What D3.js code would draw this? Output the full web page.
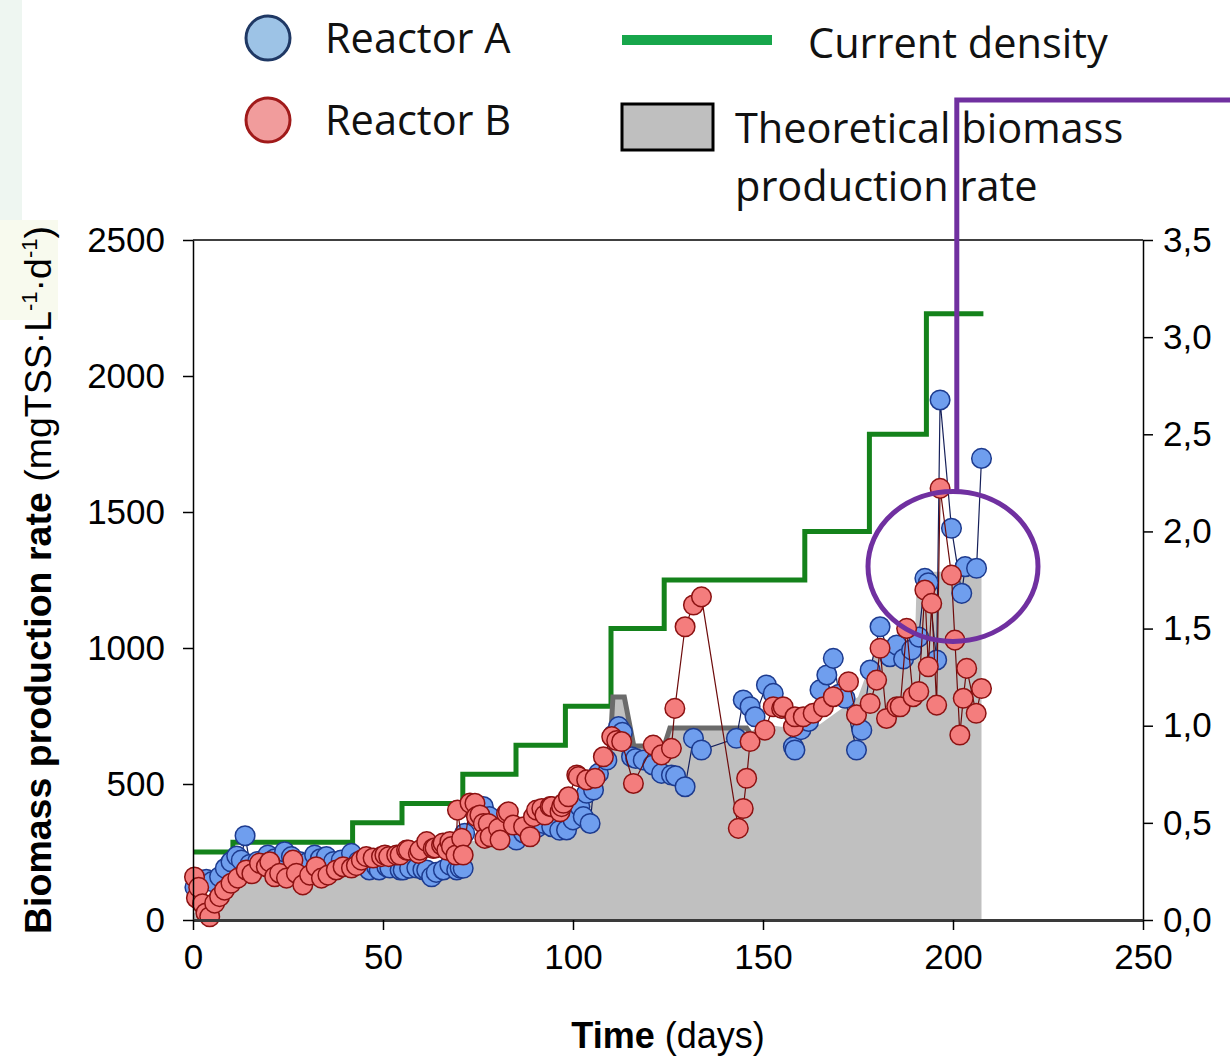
<!DOCTYPE html>
<html>
<head>
<meta charset="utf-8">
<script src="https://cdn.jsdelivr.net/npm/d3@7"></script>
<style>
  html, body { margin: 0; padding: 0; background: #ffffff; }
  svg { display: block; }
</style>
</head>
<body>
<svg id="chart" width="1230" height="1057"></svg>
<script>
// ---- Reactor A: biomass production rate (mgTSS·L-1·d-1) by day ----
const reactorADays = [0.5, 2, 3.5, 5, 7, 8.5, 10, 11.5, 12.7, 13.7, 15, 17, 19.7, 21.5, 23, 24.1, 25.9, 28, 30, 32,
  33.5, 35.1, 37, 39, 41.7, 43.5, 45, 46.4, 48.3, 49, 51, 51.8, 54.5, 55.3, 57, 58.9, 60.5, 61.5, 62.8, 64,
  65.9, 67.6, 69.4, 70.3, 71.1, 71.5, 73.8, 76.4, 78, 80, 82, 83.5, 85.1, 87, 89, 90.5, 92.2, 94.4, 96.5, 98.3,
  100, 101.8, 102.7, 103.6, 104.5, 105.4, 106.7, 108.9, 110.6, 112, 113, 115.4, 116.5, 118.5, 121, 123.3, 125.9, 127, 129.5, 131.7,
  133.8, 143, 144.8, 146.6, 147.9, 150.9, 152.7, 155, 158, 158.4, 160, 162, 165, 166.8, 168.5, 170, 171.6, 174.6, 176, 178.2,
  180.8, 183.4, 185.2, 187, 189.1, 191, 192.6, 193.5, 195.7, 196.6, 199.6, 202.3, 203.2, 206.2, 207.5];
const reactorAValues = [120, 140, 150, 141, 159, 190, 214, 235, 220, 310, 205, 215, 239, 225, 215, 251, 233, 215, 210, 239,
  225, 233, 215, 220, 245, 215, 200, 184, 196, 184, 196, 191, 184, 184, 190, 191, 185, 184, 159, 175,
  184, 202, 184, 191, 190, 319, 404, 417, 380, 340, 330, 320, 294, 320, 330, 340, 355, 343, 330, 331,
  368, 417, 380, 466, 355, 478, 539, 588, 680, 711, 690, 600, 594, 588, 570, 539, 533, 530, 490, 668,
  625, 668, 809, 784, 747, 864, 833, 780, 637, 625, 700, 730, 846, 901, 962, 830, 815, 625, 698, 919,
  1078, 968, 1011, 960, 993, 1040, 1256, 1240, 956, 1912, 1440, 1201, 1299, 1293, 1697];

// ---- Reactor B: biomass production rate (mgTSS·L-1·d-1) by day ----
const reactorBDays = [0.4, 0.9, 1.5, 2.5, 3.4, 4.4, 5.7, 7, 8.3, 10, 11.8, 14, 15.5, 17.5, 19.3, 20.2, 21.5, 22.8, 24.6, 26.3,
  27.2, 28.9, 30.7, 32.4, 33.8, 35.5, 37.7, 39.5, 41.7, 43, 44.3, 45.6, 47.4, 49.6, 50.5, 51.5, 53.6, 54.5, 56.2, 56.7,
  59.3, 59.7, 61.5, 63.2, 63.7, 65.4, 65.8, 66.8, 67.6, 68, 69.2, 69.6, 70.7, 71.1, 72.9, 74.2, 74.6, 75.5, 76.4, 76.8,
  77.7, 78.2, 80.4, 80.8, 82.5, 83, 84.3, 87, 88.7, 89.6, 90.4, 91.8, 92.6, 94, 94.4, 96.6, 97, 97.5, 98.8, 101,
  101.4, 103.6, 105.8, 108, 110.2, 111.5, 112.8, 115.9, 121.1, 123.3, 125.9, 126.8, 129.5, 131.7, 133.8, 143.5, 144.8, 145.7, 146.6, 150.5,
  152.7, 154.9, 155.3, 158, 158.4, 160.6, 163.2, 165.9, 168.5, 172.5, 174.6, 178.2, 179.9, 180.8, 182.5, 185.2, 186.1, 187.8, 189.5, 191,
  192.6, 193.5, 194.4, 195.7, 196.6, 199.6, 200.5, 201.8, 202.7, 203.6, 206.1, 207.5];
const reactorBValues = [158, 81, 120, 60, 26, 12, 62, 86, 110, 135, 154, 184, 170, 209, 196, 214, 159, 172, 154, 220,
  172, 129, 165, 196, 154, 165, 184, 196, 191, 200, 220, 233, 228, 233, 239, 233, 239, 239, 257, 257,
  245, 257, 288, 263, 265, 276, 283, 257, 288, 270, 239, 404, 300, 239, 430, 429, 380, 386, 355, 300,
  355, 306, 337, 294, 392, 398, 349, 343, 306, 380, 404, 410, 386, 417, 417, 398, 417, 429, 453, 533,
  527, 515, 521, 600, 674, 660, 656, 502, 643, 607, 631, 778, 1078, 1158, 1188, 337, 410, 521, 656, 698,
  784, 778, 784, 711, 747, 747, 760, 784, 821, 876, 754, 796, 882, 999, 741, 784, 784, 1072, 821, 840,
  1213, 931, 1164, 790, 1587, 1268, 1029, 680, 815, 925, 760, 851];

// ---- Theoretical biomass production rate (mgTSS·L-1·d-1) ----
const theoryDays = [0, 2, 5, 8, 12, 20, 30, 40, 50, 60, 70, 72, 80, 90, 95, 100, 105, 109.5, 110.5, 113.5,
  116, 124, 125.5, 145.7, 146.5, 150, 160, 165, 170, 175, 180.5, 190, 190.5, 207.5];
const theoryValues = [20, 50, 100, 130, 150, 160, 165, 175, 190, 200, 210, 290, 290, 310, 360, 420, 480, 560, 820, 820,
  640, 640, 706, 706, 690, 720, 700, 720, 770, 820, 1030, 1030, 1280, 1280];

// ---- Current density (right axis), stepwise set-points ----
const currentDays = [0, 10.5, 42, 55, 71, 85, 98, 110, 124, 161, 178, 193, 208];
const currentValues = [0.35, 0.40, 0.50, 0.60, 0.75, 0.90, 1.10, 1.50, 1.75, 2.00, 2.50, 3.12, 3.12];

// ---- Axis ticks ----
const xTicks = [0, 50, 100, 150, 200, 250];
const yTicks = [0, 500, 1000, 1500, 2000, 2500];
const y2Ticks = [0, 0.5, 1.0, 1.5, 2.0, 2.5, 3.0, 3.5];

const svg = d3.select("#chart");
const plotLeft = 193, plotRight = 1143, plotTop = 240, plotBottom = 920;

const x = d3.scaleLinear().domain([0, 250]).range([plotLeft, plotRight]);
const y = d3.scaleLinear().domain([0, 2500]).range([plotBottom, plotTop]);
const y2 = d3.scaleLinear().domain([0, 3.5]).range([plotBottom, plotTop]);

// pale slide background strips at the left edge
svg.append("rect").attr("x", 0).attr("y", 0).attr("width", 22).attr("height", 250)
  .attr("fill", "#eef6f1");
svg.append("rect").attr("x", 0).attr("y", 220).attr("width", 58).attr("height", 100)
  .attr("fill", "#f8faee");

const sans = "Liberation Sans, Arial, sans-serif";
const legendFont = "'Open Sans', 'Noto Sans', sans-serif";

// ---- theoretical area ----
const theory = theoryDays.map((d, i) => ({ d, v: theoryValues[i] }));
svg.append("path")
  .datum(theory)
  .attr("fill", "#c0c0c0")
  .attr("d", d3.area().x(p => x(p.d)).y0(y(0)).y1(p => y(p.v)));

// ---- current density step line ----
const current = currentDays.map((d, i) => ({ d, v: currentValues[i] }));
svg.append("path")
  .datum(current)
  .attr("fill", "none")
  .attr("stroke", "#14821b")
  .attr("stroke-width", 5)
  .attr("d", d3.line().x(p => x(p.d)).y(p => y2(p.v)).curve(d3.curveStepAfter));

// darker outline over the middle section of the theoretical rate
svg.append("path")
  .datum(theory.filter(p => p.d >= 109.5 && p.d <= 146.5))
  .attr("fill", "none")
  .attr("stroke", "#6b6b6b")
  .attr("stroke-width", 5)
  .attr("d", d3.line().x(p => x(p.d)).y(p => y(p.v)));

// ---- reactor series ----
function drawSeries(days, values, fill, stroke, lineColor) {
  const pts = days.map((d, i) => ({ d, v: values[i] }));
  const g = svg.append("g");
  g.append("path").datum(pts)
    .attr("fill", "none").attr("stroke", lineColor).attr("stroke-width", 1.2)
    .attr("d", d3.line().x(p => x(p.d)).y(p => y(p.v)));
  g.selectAll("circle").data(pts).join("circle")
    .attr("cx", p => x(p.d)).attr("cy", p => y(p.v)).attr("r", 9.8)
    .attr("fill", fill).attr("stroke", stroke).attr("stroke-width", 1.5);
}
drawSeries(reactorADays, reactorAValues, "#6f9eee", "#1d3b8f", "#16205a");
drawSeries(reactorBDays, reactorBValues, "#f47d7d", "#8c1212", "#6e0c0c");

// ---- frame and axes ----
svg.append("line").attr("x1", plotLeft).attr("x2", plotRight).attr("y1", plotTop).attr("y2", plotTop)
  .attr("stroke", "#000").attr("stroke-width", 1.5);

const axL = svg.append("g").attr("transform", `translate(${plotLeft},0)`)
  .call(d3.axisLeft(y).tickValues(yTicks).tickSize(10).tickSizeOuter(0).tickPadding(18).tickFormat(d3.format("d")));
const axR = svg.append("g").attr("transform", `translate(${plotRight},0)`)
  .call(d3.axisRight(y2).tickValues(y2Ticks).tickSize(10).tickSizeOuter(0).tickPadding(10)
    .tickFormat(d => d.toFixed(1).replace(".", ",")));
const axB = svg.append("g").attr("transform", `translate(0,${plotBottom})`)
  .call(d3.axisBottom(x).tickValues(xTicks).tickSize(10).tickSizeOuter(0).tickPadding(14).tickFormat(d3.format("d")));

[axL, axR, axB].forEach(a => {
  a.selectAll("path.domain").attr("stroke", "#000").attr("stroke-width", 1.5);
  a.selectAll(".tick line").attr("stroke", "#000").attr("stroke-width", 1.5);
  a.selectAll("text").attr("font-family", sans).attr("font-size", 35).attr("fill", "#000");
});
axB.select("path.domain").attr("stroke", "#3a3a3a").attr("stroke-width", 3);

// ---- axis titles ----
const xt = svg.append("text").attr("x", (plotLeft + plotRight) / 2).attr("y", 1048)
  .attr("text-anchor", "middle").attr("font-family", sans).attr("font-size", 36);
xt.append("tspan").attr("font-weight", "bold").text("Time");
xt.append("tspan").text(" (days)");

const yt = svg.append("text")
  .attr("transform", `translate(51,${(plotTop + plotBottom) / 2}) rotate(-90)`)
  .attr("text-anchor", "middle").attr("font-family", sans).attr("font-size", 37.5);
yt.append("tspan").attr("font-weight", "bold").text("Biomass production rate");
yt.append("tspan").text(" (mgTSS·L");
yt.append("tspan").attr("font-size", 22).attr("dy", -14).text("-1");
yt.append("tspan").attr("dy", 14).text("·d");
yt.append("tspan").attr("font-size", 22).attr("dy", -14).text("-1");
yt.append("tspan").attr("dy", 14).text(")");

// ---- legend ----
const lg = svg.append("g");
lg.append("circle").attr("cx", 268).attr("cy", 38).attr("r", 22)
  .attr("fill", "#9dc3e6").attr("stroke", "#1f3864").attr("stroke-width", 3);
lg.append("circle").attr("cx", 268).attr("cy", 120).attr("r", 22)
  .attr("fill", "#f19c9c").attr("stroke", "#a01a1a").attr("stroke-width", 3);
lg.append("line").attr("x1", 622).attr("x2", 772).attr("y1", 40).attr("y2", 40)
  .attr("stroke", "#17a64b").attr("stroke-width", 10);
lg.append("rect").attr("x", 622).attr("y", 104).attr("width", 91).attr("height", 46)
  .attr("fill", "#bfbfbf").attr("stroke", "#000").attr("stroke-width", 3);
const legendText = [
  { t: "Reactor A", x: 325, y: 53 },
  { t: "Reactor B", x: 325, y: 135 },
  { t: "Current density", x: 808, y: 58 },
  { t: "Theoretical biomass", x: 735, y: 143 },
  { t: "production rate", x: 735, y: 201 }
];
lg.selectAll("text").data(legendText).join("text")
  .attr("x", d => d.x).attr("y", d => d.y)
  .attr("font-family", legendFont).attr("font-size", 41.5).attr("fill", "#111")
  .text(d => d.t);

// ---- highlight of the late-period scatter ----
const hl = svg.append("g").attr("fill", "none").attr("stroke", "#7030a0").attr("stroke-width", 5);
hl.append("ellipse").attr("cx", x(200)).attr("cy", y(1300)).attr("rx", 85).attr("ry", 75);
hl.append("polyline").attr("points", `${x(201)},${y(1300) - 75} ${x(201)},100 1230,100`);
</script>
</body>
</html>
